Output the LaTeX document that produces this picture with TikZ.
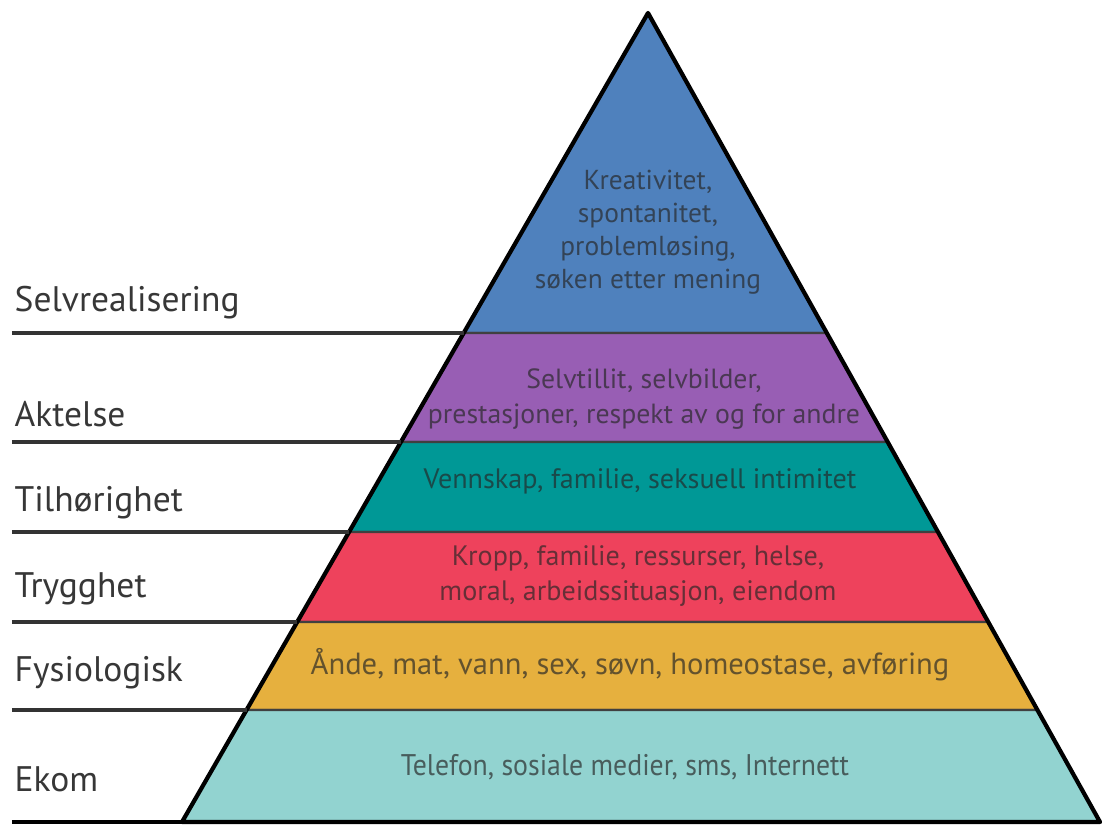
\documentclass[tikz,border=0pt]{standalone}
\usepackage{fontspec}
\setmainfont{PT Sans}
\definecolor{bandblue}{RGB}{79,129,189}
\definecolor{bandpurple}{RGB}{152,94,180}
\definecolor{bandteal}{RGB}{0,152,150}
\definecolor{bandred}{RGB}{238,66,92}
\definecolor{bandorange}{RGB}{230,176,62}
\definecolor{bandcyan}{RGB}{146,211,208}
\definecolor{labelgray}{RGB}{55,55,55}

\begin{document}
\begin{tikzpicture}[
    level/.style={anchor=base west,inner sep=0pt,text=labelgray,font=\fontsize{10.1}{12}\selectfont},
    need/.style={align=center,inner sep=0pt,text=black!85,text opacity=0.68,font=\fontsize{8}{10}\selectfont},
    band/.style={draw=black!75,line width=0.6pt}]

\useasboundingbox (0,0) rectangle (11.02,8.28);

% the six bands, top down
\filldraw [band,fill=bandblue] (6.48,8.15) -- (8.27,4.95) -- (4.64,4.95) -- cycle;
\filldraw [band,fill=bandpurple] (4.64,4.95) -- (8.27,4.95) -- (8.88,3.86) -- (4.01,3.86) -- cycle;
\filldraw [band,fill=bandteal] (4.01,3.86) -- (8.88,3.86) -- (9.38,2.96) -- (3.49,2.96) -- cycle;
\filldraw [band,fill=bandred] (3.49,2.96) -- (9.38,2.96) -- (9.88,2.06) -- (2.97,2.06) -- cycle;
\filldraw [band,fill=bandorange] (2.97,2.06) -- (9.88,2.06) -- (10.37,1.18) -- (2.47,1.18) -- cycle;
\filldraw [band,fill=bandcyan] (2.47,1.18) -- (10.37,1.18) -- (11.00,0.06) -- (1.82,0.06) -- cycle;

% outline
\draw [line width=1.2pt,line join=round] (6.48,8.15) -- (11.00,0.06) -- (1.82,0.06) -- cycle;

% lines under the level names
\draw [line width=0.9pt,black!80] (0.12,4.95) -- (4.64,4.95);
\draw [line width=0.9pt,black!80] (0.12,3.86) -- (4.01,3.86);
\draw [line width=0.9pt,black!80] (0.12,2.96) -- (3.49,2.96);
\draw [line width=0.9pt,black!80] (0.12,2.06) -- (2.97,2.06);
\draw [line width=0.9pt,black!80] (0.12,1.18) -- (2.47,1.18);
\draw [line width=1.2pt] (0.12,0.06) -- (1.82,0.06);

% level names
\node [level] (selv) at (0.14,5.16) {Selvrealisering};
\node [level] (akt) at (0.14,4.01) {Aktelse};
\node [level] (tilh) at (0.14,3.16) {Tilhørighet};
\node [level] (tryg) at (0.14,2.30) {Trygghet};
\node [level] (fys) at (0.14,1.46) {Fysiologisk};
\node [level] (ekom) at (0.14,0.36) {Ekom};

% what goes in each band
\node [need,font=\fontsize{7.8}{9.4}\selectfont] (kreativ) at (6.48,5.96) {Kreativitet,\\spontanitet,\\problemløsing,\\søken etter mening};
\node [need,font=\fontsize{7.9}{10.2}\selectfont] (selvtil) at (6.44,4.29) {Selvtillit, selvbilder,\\prestasjoner, respekt av og for andre};
\node [need] (venn) at (6.40,3.47) {Vennskap, familie, seksuell intimitet};
\node [need] (kropp) at (6.38,2.52) {Kropp, familie, ressurser, helse,\\moral, arbeidssituasjon, eiendom};
\node [need,font=\fontsize{8.7}{10}\selectfont] (ande) at (6.30,1.63) {Ånde, mat, vann, sex, søvn, homeostase, avføring};
\node [need,font=\fontsize{8.5}{10}\selectfont,xscale=0.93,transform shape] (telefon) at (6.25,0.61) {Telefon, sosiale medier, sms, Internett};

\end{tikzpicture}
\end{document}
